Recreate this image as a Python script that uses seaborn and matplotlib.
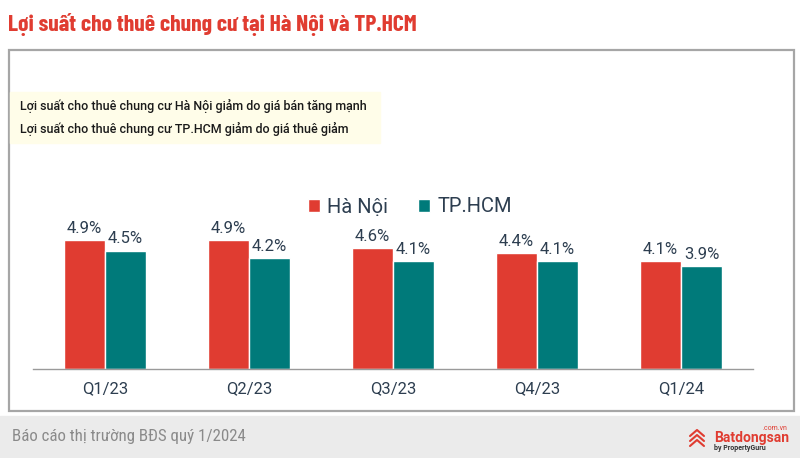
import seaborn as sns
import pandas as pd
import matplotlib.pyplot as plt
from matplotlib.patches import Rectangle
from matplotlib.lines import Line2D

quarters = ["Q1/23", "Q2/23", "Q3/23", "Q4/23", "Q1/24"]
ha_noi = [4.9, 4.9, 4.6, 4.4, 4.1]
hcm = [4.5, 4.2, 4.1, 4.1, 3.9]
series = ["Hà Nội", "TP.HCM"]

df = pd.DataFrame({
    "quarter": quarters * 2,
    "city": [series[0]] * 5 + [series[1]] * 5,
    "value": ha_noi + hcm,
})

sns.set_theme(style="white")
plt.rcParams["font.family"] = ["Roboto", "DejaVu Sans"]
narrow = ["Roboto Condensed", "Barlow Condensed", "Roboto", "DejaVu Sans"]
title_font = ["Barlow Condensed", "Roboto Condensed", "Roboto", "DejaVu Sans"]

red = "#E03C31"
teal = "#007A7A"
txt = "#2D3E50"

fig = plt.figure(figsize=(8, 4.58), dpi=100)
W, H = 800, 458

# footer band, frame, yellow note box
fig.patches.append(Rectangle((0, 0), 1, 42 / H, transform=fig.transFigure,
                             color="#EBEBEB", zorder=0))
fig.patches.append(Rectangle((9 / W, 1 - 411 / H), 785 / W, 361 / H,
                             transform=fig.transFigure, fill=False,
                             edgecolor="#A6A6A6", lw=1.6, zorder=1))
fig.patches.append(Rectangle((10 / W, 1 - 143 / H), 370 / W, 51 / H,
                             transform=fig.transFigure, color="#FFFDE9", zorder=1))

fig.text(8 / W, 1 - 25 / H, "Lợi suất cho thuê chung cư tại Hà Nội và TP.HCM",
         family=title_font, fontweight="bold", fontsize=17, color=red, va="center")
fig.text(20 / W, 1 - 106 / H, "Lợi suất cho thuê chung cư Hà Nội giảm do giá bán tăng mạnh",
         fontsize=9, fontweight="medium", color="#1A1A1A", va="center")
fig.text(20 / W, 1 - 129 / H, "Lợi suất cho thuê chung cư TP.HCM giảm do giá thuê giảm",
         fontsize=9, fontweight="medium", color="#1A1A1A", va="center")
fig.text(12 / W, 1 - 437 / H, "Báo cáo thị trường BĐS quý 1/2024",
         family=narrow, fontsize=12.2, color="#8A8A8A", va="center")

# logo
fig.text(714 / W, 1 - 438 / H, "Batdongsan", fontsize=10, fontweight="bold",
         color=red, ha="left", va="center")
fig.text(787 / W, 1 - 429 / H, ".com.vn", fontsize=5, color=red, ha="right", va="center")
fig.text(714 / W, 1 - 448 / H, "by PropertyGuru", fontsize=5, fontweight="bold",
         color="#333333", ha="left", va="center")
for dy in (0, 5, 10):
    fig.add_artist(Line2D([690 / W, 697 / W, 704 / W],
                          [1 - (436 + dy) / H, 1 - (430 + dy) / H, 1 - (436 + dy) / H],
                          transform=fig.transFigure, color=red, lw=1.5))

ax = fig.add_axes([33 / W, 1 - 369 / H, 720 / W, 179 / H])
sns.barplot(data=df, x="quarter", y="value", hue="city", hue_order=series,
            palette=[red, teal], width=0.57, saturation=1, ax=ax)

for cont in ax.containers:
    ax.bar_label(cont, labels=[f"{v:.1f}%" for v in cont.datavalues],
                 padding=3, fontsize=12, color=txt)

ax.set_ylim(0, 6.8)
ax.set_xlim(-0.5, 4.5)
ax.set_xlabel("")
ax.set_ylabel("")
ax.set_yticks([])
ax.tick_params(axis="x", labelsize=12, labelcolor=txt, pad=9, length=0)
for s in ["top", "left", "right"]:
    ax.spines[s].set_visible(False)
ax.spines["bottom"].set_color("#9A9A9A")
ax.spines["bottom"].set_linewidth(1)
ax.patch.set_alpha(0)

ax.legend(loc="center", bbox_to_anchor=(377 / 720, 1 - 17 / 179), ncol=2,
          frameon=False, fontsize=14.5, handlelength=0.6, handleheight=0.6,
          handletextpad=0.35, columnspacing=1.5, labelcolor=txt)

fig.savefig("out.png", dpi=100)
